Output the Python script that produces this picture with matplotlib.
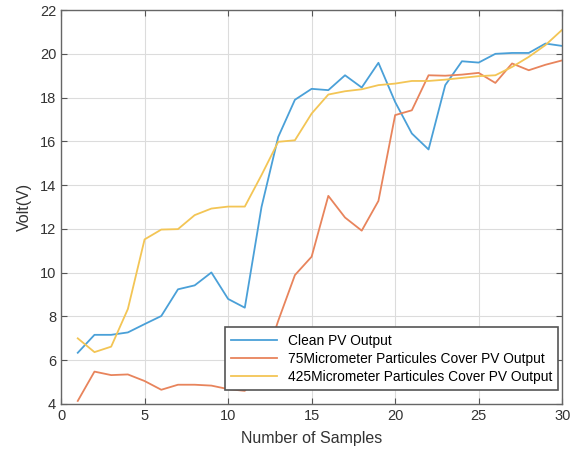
import matplotlib
matplotlib.use("Agg")
import matplotlib.pyplot as plt

plt.rcParams['font.family'] = ['Liberation Sans', 'DejaVu Sans']

samples = list(range(1, 31))
clean = [6.34, 7.16, 7.16, 7.27, 7.65, 8.02, 9.24, 9.42, 10.01, 8.8,
         8.4, 13.0, 16.2, 17.9, 18.4, 18.34, 19.02, 18.46, 19.59, 17.8,
         16.36, 15.63, 18.57, 19.66, 19.6, 20.0, 20.04, 20.04, 20.47, 20.36]
micro75 = [4.14, 5.48, 5.32, 5.35, 5.05, 4.65, 4.88, 4.88, 4.84, 4.68,
           4.6, 5.5, 7.8, 9.89, 10.73, 13.51, 12.52, 11.92, 13.28, 17.2,
           17.42, 19.02, 19.0, 19.05, 19.13, 18.67, 19.56, 19.25, 19.5, 19.7]
micro425 = [7.0, 6.37, 6.62, 8.34, 11.52, 11.97, 11.99, 12.63, 12.93, 13.02,
            13.02, 14.46, 15.98, 16.05, 17.27, 18.14, 18.29, 18.38, 18.57, 18.64,
            18.76, 18.76, 18.82, 18.9, 18.98, 19.02, 19.4, 19.86, 20.4, 21.1]
labels = ["Clean PV Output",
          "75Micrometer Particules Cover PV Output",
          "425Micrometer Particules Cover PV Output"]
xticks = [0, 5, 10, 15, 20, 25, 30]
yticks = [4, 6, 8, 10, 12, 14, 16, 18, 20, 22]

fig = plt.figure(figsize=(5.76, 4.57), dpi=100)
ax = fig.add_axes([0.106, 0.116, 0.870, 0.862])
colors = ["#4aa0d8", "#e8845c", "#f3c555"]
for ys, c, lab in zip([clean, micro75, micro425], colors, labels):
    ax.plot(samples, ys, color=c, lw=1.3, label=lab)

ax.set_xlim(0, 30)
ax.set_ylim(4, 22)
ax.set_xticks(xticks)
ax.set_yticks(yticks)
ax.grid(True, color="#dcdcdc", lw=0.8)
ax.set_axisbelow(True)
ax.tick_params(direction="in", top=True, right=True, length=4,
               colors="#555555", labelcolor="#333333", labelsize=10.5)
for s in ax.spines.values():
    s.set_color("#666666")
    s.set_linewidth(1.0)
ax.set_xlabel("Number of Samples", fontsize=11.5, color="#333333", labelpad=6)
ax.set_ylabel("Volt(V)", fontsize=11.5, color="#333333", labelpad=6)
leg = ax.legend(loc="lower right", bbox_to_anchor=(0.992, 0.0355),
                fontsize=9.9, fancybox=False,
                edgecolor="#555555", framealpha=1, handlelength=3.3,
                borderaxespad=0.0, labelspacing=0.3, borderpad=0.45)
leg.get_frame().set_linewidth(1.2)
fig.savefig("out.png", dpi=100)
